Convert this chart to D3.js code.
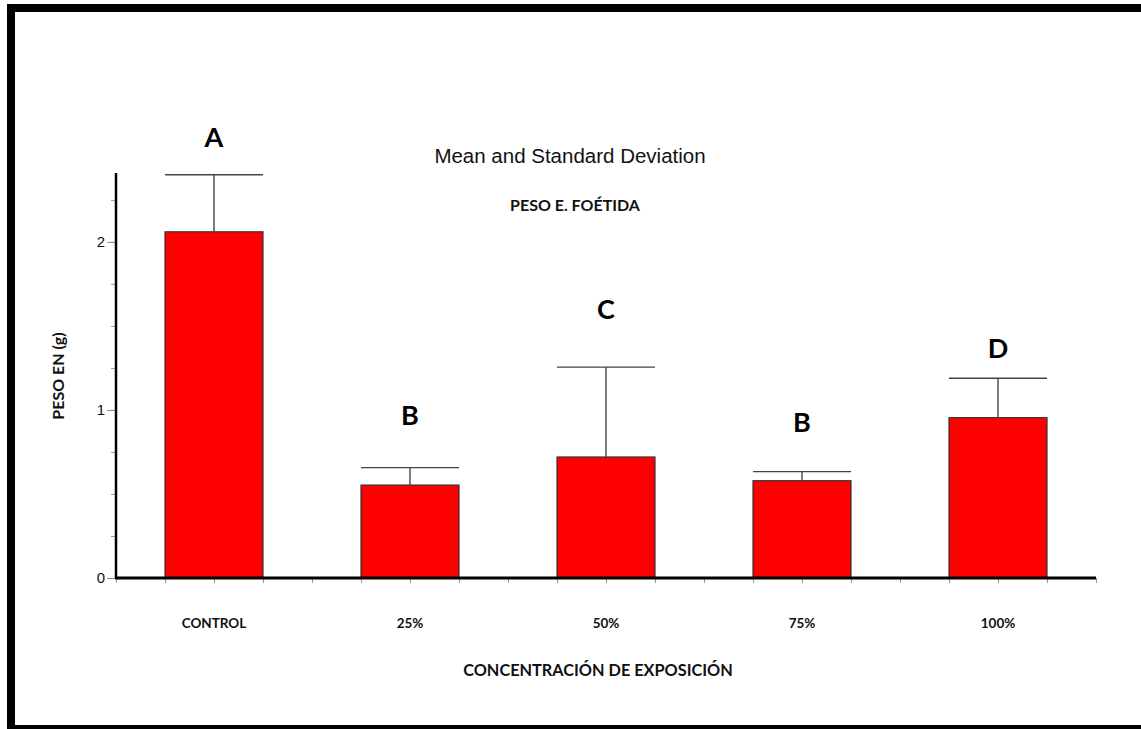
<!DOCTYPE html>
<html>
<head>
    <title>Peso E. foetida</title>
    <style>
        body { margin: 0; background: #fff; }
        .calibri { font-family: Lato, "Open Sans", sans-serif; font-weight: bold; }
        .arial { font-family: "Liberation Sans", Arial, sans-serif; }
    </style>
    <script src="https://d3js.org/d3.v7.min.js"></script>
</head>
<body>
    <svg id="chart"></svg>

    <script>
        // data
        const categories = ["CONTROL", "25%", "50%", "75%", "100%"];
        const means = [2.06, 0.553, 0.72, 0.579, 0.954];
        const sds = [0.34, 0.104, 0.535, 0.054, 0.235];
        const letters = ["A", "B", "C", "B", "D"];
        const letterLevels = [2.565, 0.911, 1.542, 0.869, 1.31];
        const yTicks = [0, 1, 2];

        const width = 1141;
        const height = 729;

        const svg = d3.select('#chart')
            .attr('width', width)
            .attr('height', height);

        // frame around the picture
        svg.append('rect')
            .attr('x', 11).attr('y', 8)
            .attr('width', 1134).attr('height', 721)
            .attr('fill', 'none')
            .attr('stroke', '#000')
            .attr('stroke-width', 8);

        const plotLeft = 116, plotRight = 1096, plotBottom = 578, plotTop = 173;

        const x = d3.scaleBand()
            .domain(categories)
            .range([plotLeft, plotRight])
            .paddingInner(0.5)
            .paddingOuter(0.25);

        const xMinor = d3.scaleLinear().domain([0, 20]).range([plotLeft, plotRight]);

        const y = d3.scaleLinear().domain([0, 2.41]).range([plotBottom, plotTop]);

        // bars
        svg.append('g')
            .selectAll('rect')
            .data(categories)
            .enter().append('rect')
            .attr('x', d => x(d))
            .attr('y', (d, i) => y(means[i]))
            .attr('width', x.bandwidth())
            .attr('height', (d, i) => y(0) - y(means[i]))
            .attr('fill', '#ff0000')
            .attr('stroke', '#333')
            .attr('stroke-width', 1.2);

        // error bars (upper only)
        const err = svg.append('g')
            .attr('stroke', '#444')
            .attr('stroke-width', 1.4);

        err.selectAll('line.stem')
            .data(categories)
            .enter().append('line')
            .attr('class', 'stem')
            .attr('x1', d => x(d) + x.bandwidth() / 2)
            .attr('x2', d => x(d) + x.bandwidth() / 2)
            .attr('y1', (d, i) => y(means[i]))
            .attr('y2', (d, i) => y(means[i] + sds[i]));

        err.selectAll('line.cap')
            .data(categories)
            .enter().append('line')
            .attr('class', 'cap')
            .attr('x1', d => x(d))
            .attr('x2', d => x(d) + x.bandwidth())
            .attr('y1', (d, i) => y(means[i] + sds[i]))
            .attr('y2', (d, i) => y(means[i] + sds[i]));

        // significance letters
        svg.append('g')
            .selectAll('text')
            .data(categories)
            .enter().append('text')
            .attr('class', 'calibri')
            .attr('x', d => x(d) + x.bandwidth() / 2)
            .attr('y', (d, i) => y(letterLevels[i]))
            .attr('text-anchor', 'middle')
            .attr('font-size', 27)
            .attr('fill', '#000')
            .text((d, i) => letters[i]);

        // x axis: minor ticks then thick base line
        const xAxis = svg.append('g')
            .attr('transform', `translate(0,${plotBottom})`)
            .call(d3.axisBottom(xMinor).ticks(20).tickSize(5).tickFormat(''));
        xAxis.select('.domain').remove();
        xAxis.selectAll('line').attr('stroke', '#999');

        svg.append('line')
            .attr('x1', plotLeft - 1).attr('x2', plotRight)
            .attr('y1', plotBottom).attr('y2', plotBottom)
            .attr('stroke', '#000')
            .attr('stroke-width', 3);

        // category labels
        svg.append('g')
            .selectAll('text')
            .data(categories)
            .enter().append('text')
            .attr('class', 'calibri')
            .attr('x', d => x(d) + x.bandwidth() / 2)
            .attr('y', 628)
            .attr('text-anchor', 'middle')
            .attr('font-size', 13.5)
            .attr('fill', '#111')
            .text(d => d);

        // y axis
        const yMinor = svg.append('g')
            .attr('transform', `translate(${plotLeft},0)`)
            .call(d3.axisLeft(y).tickValues(d3.range(0, 2.41, 0.25)).tickSize(5).tickFormat(''));
        yMinor.select('.domain').remove();
        yMinor.selectAll('line').attr('stroke', '#999');

        const yAxis = svg.append('g')
            .attr('transform', `translate(${plotLeft},0)`)
            .call(d3.axisLeft(y).tickValues(yTicks).tickSize(9).tickPadding(2).tickFormat(d3.format('d')));
        yAxis.select('.domain').remove();
        yAxis.selectAll('line').attr('stroke', '#888');
        yAxis.selectAll('text')
            .attr('class', 'arial')
            .style('font-size', '15px')
            .attr('fill', '#111');

        svg.append('line')
            .attr('x1', plotLeft).attr('x2', plotLeft)
            .attr('y1', plotTop).attr('y2', plotBottom + 1)
            .attr('stroke', '#000')
            .attr('stroke-width', 2.5);

        // titles
        svg.append('text')
            .attr('class', 'arial')
            .attr('x', 570).attr('y', 163)
            .attr('text-anchor', 'middle')
            .attr('font-size', 20.5)
            .attr('fill', '#111')
            .text('Mean and Standard Deviation');

        svg.append('text')
            .attr('class', 'calibri')
            .attr('x', 575).attr('y', 211)
            .attr('text-anchor', 'middle')
            .attr('font-size', 16)
            .attr('fill', '#111')
            .text('PESO E. FOÉTIDA');

        svg.append('text')
            .attr('class', 'calibri')
            .attr('x', 598).attr('y', 676)
            .attr('text-anchor', 'middle')
            .attr('font-size', 16.3)
            .attr('fill', '#111')
            .text('CONCENTRACIÓN DE EXPOSICIÓN');

        svg.append('text')
            .attr('class', 'calibri')
            .attr('transform', 'translate(64,376) rotate(-90)')
            .attr('text-anchor', 'middle')
            .attr('font-size', 16)
            .attr('fill', '#111')
            .text('PESO EN (g)');
    </script>
</body>
</html>
